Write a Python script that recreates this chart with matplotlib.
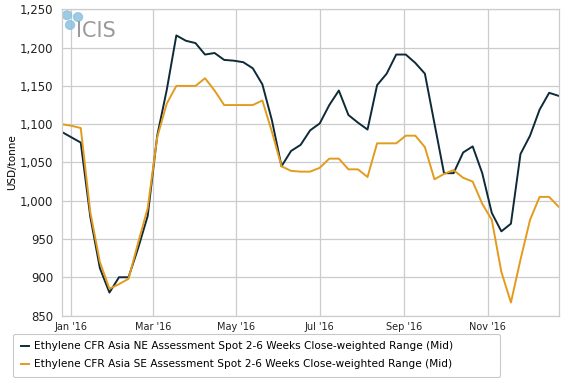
import matplotlib
matplotlib.use('Agg')
import matplotlib.pyplot as plt
import matplotlib.dates as mdates
from matplotlib.patches import Ellipse
from matplotlib.ticker import FuncFormatter
import numpy as np
import pandas as pd

# weekly assessments, Dec 25 2015 .. Dec 23 2016
dates = pd.date_range('2015-12-25', '2016-12-23', freq='7D')

ne_mid = [1090, 1083, 1076, 979, 912, 880, 900, 900, 938, 980,
          1085, 1145, 1216, 1209, 1206, 1191, 1193, 1184, 1183, 1181,
          1173, 1152, 1105, 1045, 1065, 1073, 1092, 1101, 1125, 1144,
          1112, 1102, 1093, 1151, 1166, 1191, 1191, 1180, 1166, 1101,
          1036, 1036, 1063, 1071, 1036, 984, 960, 970, 1061, 1085,
          1119, 1141, 1137]
se_mid = [1100, 1098, 1095, 985, 920, 885, 891, 898, 945, 990,
          1083, 1127, 1150, 1150, 1150, 1160, 1144, 1125, 1125, 1125,
          1125, 1131, 1090, 1045, 1039, 1038, 1038, 1043, 1055, 1055,
          1041, 1041, 1031, 1075, 1075, 1075, 1085, 1085, 1070, 1028,
          1035, 1040, 1030, 1025, 996, 975, 907, 867, 923, 975,
          1005, 1005, 992]

ne_label = 'Ethylene CFR Asia NE Assessment Spot 2-6 Weeks Close-weighted Range (Mid)'
se_label = 'Ethylene CFR Asia SE Assessment Spot 2-6 Weeks Close-weighted Range (Mid)'

ne_color = '#0e2a38'
se_color = '#e39b1e'
grid_color = '#cccccc'

fig = plt.figure(figsize=(5.76, 3.91), dpi=100)
ax = fig.add_axes([0.107, 0.193, 0.863, 0.783])

ax.plot(dates, ne_mid, color=ne_color, linewidth=1.4, label=ne_label)
ax.plot(dates, se_mid, color=se_color, linewidth=1.4, label=se_label)

ax.set_xlim(dates[0], dates[-1])
ax.set_ylim(850, 1250)
ax.set_yticks(np.arange(850, 1251, 50))
ax.yaxis.set_major_formatter(FuncFormatter(lambda v, p: f'{v:,.0f}'))
ax.xaxis.set_major_locator(mdates.MonthLocator(bymonth=[1, 3, 5, 7, 9, 11]))
ax.xaxis.set_major_formatter(mdates.DateFormatter("%b '%y"))

ax.grid(True, color=grid_color, linewidth=0.9)
ax.set_axisbelow(True)
for s in ax.spines.values():
    s.set_color(grid_color)
    s.set_linewidth(0.9)
ax.tick_params(axis='both', length=0, colors='#222222')
ax.tick_params(axis='y', labelsize=8.5, pad=6)
ax.tick_params(axis='x', labelsize=7, pad=5)
ax.set_ylabel('USD/tonne', fontsize=7.5, labelpad=2)

# ICIS watermark
ax.text(0.028, 0.93, 'ICIS', transform=ax.transAxes, fontsize=15,
        color='#9a9a9a', ha='left', va='center')
for (lx, ly) in [(0.011, 0.981), (0.033, 0.975), (0.017, 0.949)]:
    ax.add_patch(Ellipse((lx, ly), 0.018, 0.028, transform=ax.transAxes,
                         color='#8cc2e0', alpha=0.85, clip_on=False))

leg = fig.legend(loc='lower left', bbox_to_anchor=(0.014, 0.023, 0.863, 0.115),
                 mode='expand', fontsize=7.6,
                 handlelength=0.8, handletextpad=0.5, labelspacing=0.75,
                 frameon=True, fancybox=True, borderpad=0.7)
leg.get_frame().set_edgecolor('#bbbbbb')
leg.get_frame().set_linewidth(0.8)

fig.savefig('out.png', dpi=100)
